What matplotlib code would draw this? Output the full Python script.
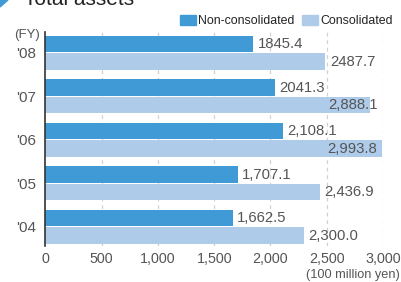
import matplotlib.pyplot as plt
import numpy as np

years = ["'04", "'05", "'06", "'07", "'08"]
non_consolidated = [1662.5, 1707.1, 2108.1, 2041.3, 1845.4]
consolidated = [2300.0, 2436.9, 2993.8, 2888.1, 2487.7]
non_labels = ["1,662.5", "1,707.1", "2,108.1", "2041.3", "1845.4"]
con_labels = ["2,300.0", "2,436.9", "2,993.8", "2,888.1", "2487.7"]
xticks = [0, 500, 1000, 1500, 2000, 2500, 3000]
xtick_labels = ["0", "500", "1,000", "1,500", "2,000", "2,500", "3,000"]

c_non = "#3f9ad6"
c_con = "#aecbea"
txt = "#555555"

plt.rcParams['font.family'] = ['Liberation Sans', 'DejaVu Sans']

fig = plt.figure(figsize=(4.02, 2.82), dpi=100)
ax = fig.add_axes([45.5 / 402, 1 - 246 / 282, (383 - 45.5) / 402, 214 / 282])

y = np.arange(len(years))
h = 0.38
ax.barh(y + 0.2, non_consolidated, height=h, color=c_non, zorder=2)
ax.barh(y - 0.2, consolidated, height=h, color=c_con, zorder=2)

for i in range(len(years)):
    ax.text(non_consolidated[i] + 40, y[i] + 0.2, non_labels[i], va='center',
            ha='left', fontsize=10.7, color=txt)
    if consolidated[i] > 2800:
        ax.text(2950, y[i] - 0.2, con_labels[i], va='center', ha='right',
                fontsize=10.7, color=txt, zorder=3)
    else:
        ax.text(consolidated[i] + 40, y[i] - 0.2, con_labels[i], va='center',
                ha='left', fontsize=10.7, color=txt)

ax.set_xlim(0, 3000)
ax.set_ylim(-0.44, 4.48)
ax.set_xticks(xticks)
ax.set_xticklabels(xtick_labels, fontsize=10.3, color=txt)
ax.set_yticks(y)
ax.set_yticklabels(years, fontsize=11, color=txt)
ax.tick_params(length=0, pad=4)
ax.tick_params(axis='y', pad=7)
for x in xticks[1:]:
    ax.axvline(x, color="#d0d0d0", lw=0.9, ls=(0, (3, 3)), zorder=1)
for s in ['top', 'right', 'bottom']:
    ax.spines[s].set_visible(False)
ax.spines['left'].set_color("#333333")
ax.spines['left'].set_linewidth(1.2)
ax.spines['left'].set_zorder(4)

fig.text(40 / 402, 1 - 38 / 282, "(FY)", ha='right', va='baseline',
         fontsize=9.5, color=txt)
fig.text(1 - 2 / 402, 1 - 278 / 282, "(100 million yen)", ha='right',
         va='baseline', fontsize=9.2, color=txt)

# legend
fig.patches.append(plt.Rectangle((180 / 402, 1 - 25 / 282), 16 / 402, 10 / 282,
                                 transform=fig.transFigure, color=c_non))
fig.text(198 / 402, 1 - 24 / 282, "Non-consolidated", fontsize=8.9,
         va='baseline', color="#222222")
fig.patches.append(plt.Rectangle((302 / 402, 1 - 25 / 282), 16 / 402, 10 / 282,
                                 transform=fig.transFigure, color=c_con))
fig.text(320 / 402, 1 - 24 / 282, "Consolidated", fontsize=8.9,
         va='baseline', color="#222222")

# title, partly cut off at the top as in the source
fig.patches.append(plt.Polygon([(0, 1), (8 / 402, 1), (0, 1 - 7 / 282)],
                               closed=True, transform=fig.transFigure,
                               color=c_non))
fig.text(24 / 402, 1 - 5 / 282, "Total assets", fontsize=15,
         va='baseline', color="#222222")

fig.savefig("out.png", dpi=100)
